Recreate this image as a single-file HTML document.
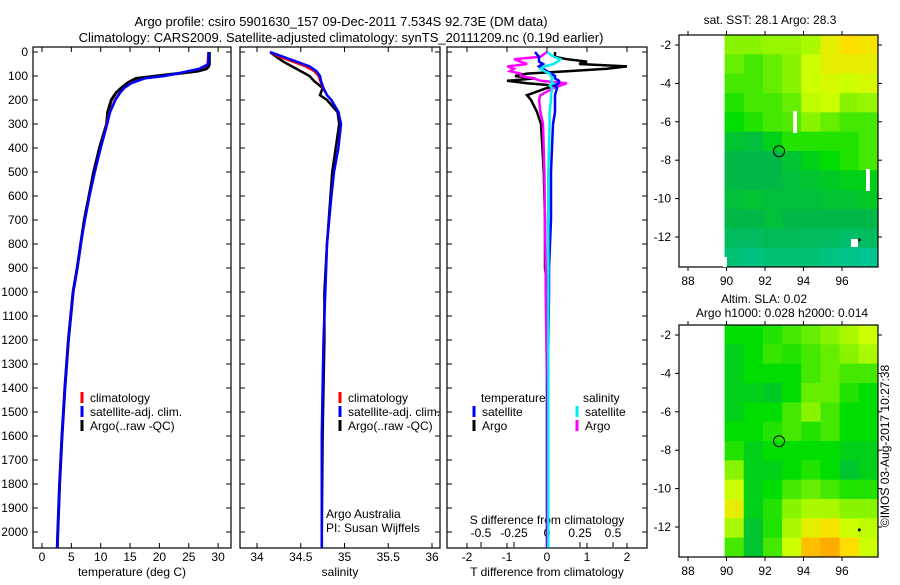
<!DOCTYPE html>
<html><head><meta charset="utf-8">
<style>
body{margin:0;background:#fff;}
svg{font-family:"Liberation Sans",sans-serif;}
text{font-size:12px;fill:#000;}
</style></head><body>
<svg id="c" width="900" height="580" xmlns="http://www.w3.org/2000/svg">
<text x="341" y="26" text-anchor="middle" style="font-size:13px">Argo profile: csiro 5901630_157 09-Dec-2011 7.534S 92.73E (DM data)</text>
<text x="341" y="42" text-anchor="middle" style="font-size:13px">Climatology: CARS2009. Satellite-adjusted climatology: synTS_20111209.nc (0.19d earlier)</text>
<g id="g"></g>
<text x="889" y="446" transform="rotate(-90 889 446)" text-anchor="middle">©IMOS 03-Aug-2017 10:27:38</text>
</svg>
<script>
// ---- data ----
const depthT=[0,50,60,70,80,90,100,110,130,150,170,200,250,300,400,500,600,700,800,900,1000,1200,1400,1600,1800,2000,2065];
const tempClim=[28.3,28.2,27.8,27,25,23,21,17.5,15,14,13.2,12.4,11.5,11.0,10.0,9.0,8.1,7.3,6.6,6.0,5.3,4.5,3.9,3.4,3.0,2.7,2.6];
const tempSat=[28.4,28.3,27.6,26.8,24.8,23,20.8,17.5,15.2,14,13.3,12.5,11.6,11.1,10.0,9.0,8.1,7.3,6.6,6.0,5.3,4.5,3.9,3.4,3.0,2.7,2.6];
const tempArgo=[28.5,28.5,28.4,28,26.5,23,19.5,16,14.5,13.5,12.6,11.8,11.2,11.0,9.8,8.8,8.0,7.2,6.6,6.0,5.3,4.5,3.9,3.4,3.0,2.7,2.6];
const depthS=[0,20,40,60,80,100,120,150,180,200,250,300,400,500,600,800,1000,1200,1400,1600,2000,2065];
const salClim=[34.15,34.25,34.4,34.55,34.65,34.7,34.72,34.75,34.8,34.85,34.93,34.96,34.93,34.88,34.85,34.8,34.78,34.76,34.75,34.74,34.74,34.74];
const salSat=[34.15,34.3,34.45,34.6,34.68,34.72,34.73,34.76,34.8,34.85,34.93,34.96,34.93,34.88,34.85,34.8,34.78,34.76,34.75,34.74,34.74,34.74];
const salArgo=[34.15,34.22,34.3,34.4,34.5,34.6,34.65,34.75,34.72,34.8,34.92,34.94,34.9,34.86,34.84,34.8,34.77,34.77,34.76,34.75,34.74,34.74];
const depthD=[0,20,30,40,50,60,70,80,90,100,110,120,130,140,150,180,200,250,300,500,700,900,1000,1400,2065];
const tDiffArgo=[0.2,0.2,0.5,1.0,0.8,2.0,1.5,0.5,-0.5,-0.8,-0.3,-1.0,-0.5,0.2,0,-0.5,-0.4,-0.25,-0.15,-0.08,-0.05,-0.05,0.03,0,0];
const tDiffSat=[-0.3,-0.2,-0.2,-0.2,-0.1,-0.2,-0.1,0,0.1,0.2,0.2,0.3,0.3,0.2,0.25,0.2,0.2,0.2,0.15,0.1,0.1,0.05,0.05,0.02,0.02];
const sDiffArgo=[0,-0.05,-0.25,-0.2,-0.15,-0.3,-0.25,-0.28,-0.2,-0.2,-0.1,-0.05,0.15,0.1,0.05,-0.05,-0.06,-0.05,-0.03,-0.02,-0.015,-0.01,-0.01,0,0];
const sDiffSat=[0,0.05,0.1,0.08,0.05,-0.02,-0.05,-0.02,0.02,0.03,0.04,0.03,0.05,0.02,0.04,0.03,0.03,0.02,0.02,0.01,0.01,0.01,0.01,0.01,0.01];
const depthTicks=[0,100,200,300,400,500,600,700,800,900,1000,1100,1200,1300,1400,1500,1600,1700,1800,1900,2000];
const tempTicks=[0,5,10,15,20,25,30];
const salTicks=[34,34.5,35,35.5,36];
const tdTicks=[-2,-1,0,1,2];
const sdTicks=[-0.5,-0.25,0,0.25,0.5];
const lonTicks=[88,90,92,94,96];
const latTicks=[-2,-4,-6,-8,-10,-12];
const sstGrid=[
[.7,.7,.72,.72,.75,.85,.9,.88],
[.65,.6,.65,.7,.8,.85,.85,.85],
[.6,.6,.65,.7,.8,.82,.8,.82],
[.55,.6,.6,.65,.78,.8,.7,.72],
[.5,.55,.6,.62,.7,.65,.6,.6],
[.4,.38,.45,.55,.55,.55,.55,.6],
[.35,.35,.35,.4,.45,.5,.55,.6],
[.35,.35,.35,.38,.4,.42,.45,.45],
[.38,.4,.38,.38,.38,.4,.4,.42],
[.35,.35,.38,.35,.35,.35,.35,.35],
[.3,.3,.32,.32,.3,.3,.28,.3],
[.25,.22,.25,.25,.25,.22,.2,.18]];
const slaGrid=[
[.5,.5,.55,.6,.65,.7,.75,.8],
[.45,.5,.58,.55,.6,.65,.7,.75],
[.45,.5,.5,.5,.6,.65,.6,.6],
[.45,.45,.42,.5,.65,.65,.55,.5],
[.45,.5,.5,.6,.7,.6,.5,.5],
[.5,.5,.55,.6,.55,.6,.5,.5],
[.55,.45,.5,.5,.5,.5,.45,.45],
[.7,.45,.45,.5,.55,.5,.4,.45],
[.8,.45,.5,.6,.65,.6,.55,.55],
[.85,.45,.55,.7,.75,.75,.7,.7],
[.75,.4,.55,.75,.85,.88,.8,.78],
[.6,.4,.6,.8,.95,.98,.9,.8]];
const argoLon=92.73, argoLat=-7.534;

// ---- helpers ----
const NS="http://www.w3.org/2000/svg";
const G=document.getElementById('g');
function mk(tag,attrs,parent){const e=document.createElementNS(NS,tag);for(const k in attrs)e.setAttribute(k,attrs[k]);(parent||G).appendChild(e);return e;}
const yD=d=>52+d*0.24;
const xT=t=>42+t*5.87;
const xS=s=>257+(s-34)*87.5;
const xDT=v=>547+v*40;
const xDS=v=>547+v*132;
const TOP=47,BOT=548;

function panel(x0,x1,name){
  const r=mk('rect',{x:x0,y:TOP,width:x1-x0,height:BOT-TOP,fill:'none',stroke:'#000','stroke-width':1.2});
  
  
  depthTicks.forEach(d=>{
    mk('line',{x1:x0,x2:x0+5,y1:yD(d),y2:yD(d),stroke:'#000'});
    mk('line',{x1:x1-5,x2:x1,y1:yD(d),y2:yD(d),stroke:'#000'});
  });
}
function xticks(vals,fx,y,name,labels=true){
  vals.forEach(v=>{
    mk('line',{x1:fx(v),x2:fx(v),y1:BOT,y2:BOT-5,stroke:'#000'});
    mk('line',{x1:fx(v),x2:fx(v),y1:TOP,y2:TOP+5,stroke:'#000'});
    if(labels){const t=mk('text',{x:fx(v),y:y,'text-anchor':'middle'});t.textContent=v;
    
    }
  });
}
function line(xs,ds,fx,color,w,name){
  const pts=xs.map((v,i)=>fx(v).toFixed(1)+','+yD(ds[i]).toFixed(1)).join(' ');
  const p=mk('polyline',{points:pts,fill:'none',stroke:color,'stroke-width':w});
  
  
}
function txt(x,y,s,name,extra){const t=mk('text',Object.assign({x:x,y:y},extra||{}));t.textContent=s;
  
  return t;}
function leg(x,y,color,label,name){
  mk('line',{x1:x,x2:x,y1:y-10,y2:y+1,stroke:color,'stroke-width':3});
  txt(x+8,y,label,name);
}

// panel 1
panel(33,231,'temperature-panel');
depthTicks.forEach(d=>{txt(28,yD(d)+4,d,'depth-tick-label',{'text-anchor':'end'});});
xticks(tempTicks,xT,561,'temp-tick-label');
txt(132,576,'temperature (deg C)','temp-axis-title',{'text-anchor':'middle'});
line(tempArgo,depthT,xT,'#000',3,'temp-argo-line');
line(tempClim,depthT,xT,'#f00',2,'temp-clim-line');
line(tempSat,depthT,xT,'#00f',2.5,'temp-sat-line');
leg(82,402,'#f00','climatology','legend-climatology');
leg(82,416,'#00f','satellite-adj. clim.','legend-satellite');
leg(82,430,'#000','Argo(..raw -QC)','legend-argo');

// panel 2
panel(240,440,'salinity-panel');
xticks(salTicks,xS,561,'sal-tick-label');
txt(340,576,'salinity','sal-axis-title',{'text-anchor':'middle'});
line(salArgo,depthS,xS,'#000',2.5,'sal-argo-line');
line(salClim,depthS,xS,'#f00',2,'sal-clim-line');
line(salSat,depthS,xS,'#00f',2.5,'sal-sat-line');
leg(340,402,'#f00','climatology','legend-climatology-2');
leg(340,416,'#00f','satellite-adj. clim.','legend-satellite-2');
leg(340,430,'#000','Argo(..raw -QC)','legend-argo-2');
txt(326,518,'Argo Australia','institution-label');
txt(326,532,'PI: Susan Wijffels','pi-label');

// panel 3
panel(447,647,'difference-panel');
xticks(tdTicks,xDT,561,'tdiff-tick-label');
sdTicks.forEach(v=>{mk('line',{x1:xDS(v),x2:xDS(v),y1:BOT-6,y2:BOT-1,stroke:'#000'});
  const t=txt(xDS(v),537,v,'sdiff-tick-label',{'text-anchor':'middle'});});
txt(547,524,'S difference from climatology','sdiff-axis-title',{'text-anchor':'middle'});
txt(547,576,'T difference from climatology','tdiff-axis-title',{'text-anchor':'middle'});
line(tDiffArgo,depthD,xDT,'#000',2.5,'tdiff-argo-line');
line(sDiffArgo,depthD,xDS,'#f0f',2.5,'sdiff-argo-line');
line(tDiffSat,depthD,xDT,'#00f',2.5,'tdiff-sat-line');
line(sDiffSat,depthD,xDS,'#0ee',2.5,'sdiff-sat-line');
txt(481,402,'temperature','legend-temperature-head');
txt(583,402,'salinity','legend-salinity-head');
leg(474,416,'#00f','satellite','legend-t-satellite');
leg(474,430,'#000','Argo','legend-t-argo');
leg(577,416,'#0ee','satellite','legend-s-satellite');
leg(577,430,'#f0f','Argo','legend-s-argo');

// maps
const stops=[[0.15,[0,200,160]],[0.35,[0,184,72]],[0.5,[0,221,0]],[0.65,[102,238,0]],[0.8,[204,255,0]],[0.9,[255,221,0]],[1,[255,160,0]]];
function cmap(v){
  if(v<=stops[0][0])return 'rgb('+stops[0][1]+')';
  for(let i=1;i<stops.length;i++){if(v<=stops[i][0]){const a=stops[i-1],b=stops[i];const f=(v-a[0])/(b[0]-a[0]);
    return 'rgb('+a[1].map((c,k)=>Math.round(c+(b[1][k]-c)*f)).join(',')+')';}}
  return 'rgb('+stops[stops.length-1][1]+')';
}
function map(y0,y1,grid,name){
  const lonX=l=>688+(l-88)*19.25;
  const latY=l=>y0+10+(-2-l)*19.2;
  const cw=(878-lonX(89.9))/8, ch=(y1-y0)/12;
  grid.forEach((row,i)=>row.forEach((v,j)=>{
    const c=mk('rect',{x:lonX(89.9)+j*cw,y:y0+i*ch,width:cw+0.5,height:ch+0.5,fill:cmap(v)});
    
    
  }));
  const b=mk('rect',{x:679,y:y0,width:199,height:y1-y0,fill:'none',stroke:'#000','stroke-width':1.2});
  
  
  lonTicks.forEach(l=>{mk('line',{x1:lonX(l),x2:lonX(l),y1:y1,y2:y1+4,stroke:'#000'});
    mk('line',{x1:lonX(l),x2:lonX(l),y1:y0,y2:y0-4,stroke:'#000'});
    txt(lonX(l),y1+18,l,'lon-tick-label',{'text-anchor':'middle'});});
  latTicks.forEach(l=>{mk('line',{x1:675,x2:679,y1:latY(l),y2:latY(l),stroke:'#000'});
    mk('line',{x1:878,x2:882,y1:latY(l),y2:latY(l),stroke:'#000'});
    txt(671,latY(l)+4,l,'lat-tick-label',{'text-anchor':'end'});});
  const m=mk('circle',{cx:lonX(argoLon),cy:latY(argoLat),r:5.5,fill:'none',stroke:'#000'});
  
  
  mk('circle',{cx:lonX(96.9),cy:latY(-12.15),r:1.5,fill:'#000'});
}
map(35,267,sstGrid,'sst-map');
txt(770,24,'sat. SST: 28.1 Argo: 28.3','sst-map-title',{'text-anchor':'middle'});
mk('rect',{x:793,y:111,width:4,height:22,fill:'#fff'});
mk('rect',{x:866,y:169,width:4,height:22,fill:'#fff'});
mk('rect',{x:851,y:239,width:7,height:8,fill:'#fff'});
mk('rect',{x:723,y:257,width:4,height:10,fill:'#fff'});
map(325,557,slaGrid,'sla-map');
txt(764,303,'Altim. SLA: 0.02','sla-map-title',{'text-anchor':'middle'});
txt(782,317,'Argo h1000: 0.028 h2000: 0.014','steric-height-title',{'text-anchor':'middle'});
</script>
</body></html>
